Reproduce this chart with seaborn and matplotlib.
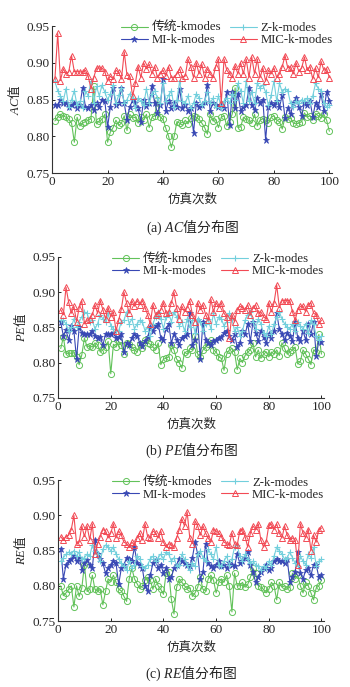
import numpy as np
import pandas as pd
import matplotlib
matplotlib.use('Agg')
import matplotlib.pyplot as plt
import seaborn as sns

sns.set_style('ticks')
plt.rcParams['font.family'] = ['Liberation Serif', 'Noto Sans CJK SC']
plt.rcParams['mathtext.fontset'] = 'custom'
plt.rcParams['mathtext.it'] = 'Liberation Serif:italic'
plt.rcParams['mathtext.rm'] = 'Noto Sans CJK SC'

runs = list(range(1, 101))
series_names = ['传统-kmodes', 'MI-k-modes', 'Z-k-modes', 'MIC-k-modes']

# (a) AC
ac_trad = [0.821, 0.826, 0.830, 0.828, 0.826, 0.823, 0.818, 0.792, 0.826, 0.814,
           0.818, 0.820, 0.822, 0.824, 0.868, 0.817, 0.821, 0.823, 0.830, 0.792,
           0.806, 0.812, 0.822, 0.815, 0.818, 0.828, 0.808, 0.830, 0.825, 0.826,
           0.818, 0.827, 0.822, 0.830, 0.812, 0.826, 0.828, 0.850, 0.826, 0.823,
           0.811, 0.800, 0.785, 0.800, 0.820, 0.818, 0.815, 0.822, 0.817, 0.825,
           0.828, 0.826, 0.823, 0.818, 0.812, 0.803, 0.830, 0.821, 0.823, 0.812,
           0.826, 0.828, 0.814, 0.820, 0.831, 0.866, 0.812, 0.813, 0.826, 0.823,
           0.822, 0.818, 0.830, 0.814, 0.822, 0.824, 0.822, 0.818, 0.826, 0.828,
           0.822, 0.820, 0.810, 0.826, 0.823, 0.825, 0.818, 0.817, 0.818, 0.820,
           0.832, 0.826, 0.828, 0.822, 0.831, 0.828, 0.825, 0.830, 0.822, 0.807]
ac_mi = [0.843, 0.843, 0.850, 0.845, 0.846, 0.840, 0.843, 0.845, 0.838, 0.843,
         0.866, 0.840, 0.838, 0.842, 0.836, 0.845, 0.840, 0.850, 0.848, 0.813,
         0.840, 0.866, 0.843, 0.845, 0.866, 0.845, 0.822, 0.840, 0.849, 0.845,
         0.838, 0.820, 0.850, 0.841, 0.846, 0.868, 0.845, 0.832, 0.842, 0.878,
         0.835, 0.848, 0.838, 0.845, 0.840, 0.865, 0.838, 0.842, 0.835, 0.838,
         0.805, 0.846, 0.840, 0.843, 0.847, 0.870, 0.835, 0.845, 0.842, 0.840,
         0.842, 0.838, 0.860, 0.815, 0.860, 0.838, 0.858, 0.835, 0.840, 0.843,
         0.866, 0.842, 0.836, 0.852, 0.845, 0.850, 0.795, 0.840, 0.845, 0.842,
         0.848, 0.840, 0.856, 0.825, 0.838, 0.830, 0.845, 0.852, 0.840, 0.828,
         0.845, 0.842, 0.848, 0.827, 0.845, 0.840, 0.858, 0.835, 0.860, 0.848]
ac_z = [0.875, 0.862, 0.855, 0.848, 0.865, 0.840, 0.850, 0.862, 0.842, 0.848,
        0.838, 0.862, 0.855, 0.875, 0.846, 0.868, 0.855, 0.870, 0.860, 0.850,
        0.858, 0.870, 0.845, 0.856, 0.866, 0.845, 0.850, 0.858, 0.852, 0.838,
        0.852, 0.848, 0.842, 0.865, 0.845, 0.858, 0.862, 0.852, 0.845, 0.872,
        0.848, 0.856, 0.862, 0.840, 0.850, 0.875, 0.848, 0.845, 0.855, 0.838,
        0.845, 0.858, 0.852, 0.842, 0.848, 0.860, 0.845, 0.852, 0.840, 0.855,
        0.838, 0.848, 0.852, 0.845, 0.858, 0.850, 0.872, 0.862, 0.845, 0.876,
        0.848, 0.860, 0.845, 0.872, 0.866, 0.870, 0.860, 0.842, 0.856, 0.875,
        0.848, 0.872, 0.860, 0.865, 0.862, 0.845, 0.840, 0.848, 0.845, 0.850,
        0.848, 0.852, 0.845, 0.855, 0.872, 0.865, 0.862, 0.845, 0.840, 0.843]
ac_mic = [0.878, 0.940, 0.876, 0.892, 0.885, 0.888, 0.910, 0.888, 0.888, 0.888,
          0.887, 0.890, 0.882, 0.865, 0.880, 0.893, 0.893, 0.893, 0.888, 0.875,
          0.882, 0.878, 0.890, 0.887, 0.878, 0.915, 0.883, 0.882, 0.855, 0.872,
          0.895, 0.880, 0.900, 0.892, 0.898, 0.885, 0.895, 0.880, 0.885, 0.890,
          0.882, 0.895, 0.880, 0.880, 0.885, 0.892, 0.880, 0.882, 0.905, 0.895,
          0.880, 0.900, 0.885, 0.898, 0.880, 0.892, 0.885, 0.880, 0.895, 0.905,
          0.845, 0.905, 0.890, 0.885, 0.880, 0.896, 0.885, 0.900, 0.885, 0.905,
          0.880, 0.908, 0.885, 0.905, 0.880, 0.893, 0.875, 0.890, 0.885, 0.893,
          0.880, 0.885, 0.895, 0.910, 0.893, 0.895, 0.885, 0.900, 0.888, 0.893,
          0.908, 0.890, 0.895, 0.878, 0.893, 0.880, 0.902, 0.890, 0.892, 0.880]

# (b) PE
pe_trad = [0.820, 0.836, 0.812, 0.814, 0.813, 0.814, 0.808, 0.797, 0.811, 0.835,
           0.822, 0.824, 0.822, 0.828, 0.825, 0.815, 0.818, 0.822, 0.830, 0.784,
           0.826, 0.822, 0.830, 0.825, 0.812, 0.828, 0.826, 0.822, 0.818, 0.815,
           0.826, 0.820, 0.832, 0.828, 0.826, 0.822, 0.818, 0.828, 0.797, 0.805,
           0.806, 0.808, 0.825, 0.818, 0.805, 0.800, 0.792, 0.815, 0.812, 0.820,
           0.818, 0.838, 0.812, 0.808, 0.818, 0.822, 0.826, 0.832, 0.818, 0.815,
           0.808, 0.806, 0.789, 0.812, 0.818, 0.820, 0.815, 0.790, 0.806, 0.800,
           0.810, 0.815, 0.818, 0.828, 0.808, 0.818, 0.806, 0.812, 0.815, 0.808,
           0.815, 0.812, 0.818, 0.810, 0.828, 0.820, 0.812, 0.815, 0.818, 0.822,
           0.798, 0.802, 0.818, 0.812, 0.805, 0.797, 0.818, 0.815, 0.840, 0.812]
pe_mi = [0.857, 0.838, 0.846, 0.832, 0.852, 0.845, 0.805, 0.850, 0.842, 0.840,
         0.840, 0.840, 0.845, 0.838, 0.835, 0.836, 0.825, 0.840, 0.840, 0.840,
         0.842, 0.835, 0.836, 0.840, 0.815, 0.828, 0.825, 0.835, 0.840, 0.838,
         0.828, 0.824, 0.830, 0.836, 0.850, 0.845, 0.852, 0.855, 0.835, 0.832,
         0.848, 0.855, 0.828, 0.840, 0.832, 0.825, 0.835, 0.838, 0.840, 0.870,
         0.825, 0.832, 0.860, 0.805, 0.858, 0.832, 0.828, 0.825, 0.830, 0.832,
         0.835, 0.836, 0.842, 0.845, 0.838, 0.832, 0.840, 0.822, 0.828, 0.845,
         0.840, 0.855, 0.830, 0.858, 0.842, 0.830, 0.845, 0.836, 0.828, 0.840,
         0.835, 0.845, 0.870, 0.848, 0.840, 0.832, 0.842, 0.838, 0.830, 0.858,
         0.835, 0.830, 0.845, 0.832, 0.855, 0.840, 0.858, 0.810, 0.830, 0.829]
pe_z = [0.860, 0.860, 0.855, 0.845, 0.850, 0.862, 0.850, 0.858, 0.865, 0.872,
        0.870, 0.858, 0.860, 0.848, 0.855, 0.868, 0.862, 0.858, 0.870, 0.852,
        0.848, 0.845, 0.845, 0.858, 0.860, 0.872, 0.855, 0.862, 0.848, 0.855,
        0.860, 0.858, 0.845, 0.850, 0.838, 0.855, 0.865, 0.872, 0.862, 0.848,
        0.865, 0.870, 0.858, 0.872, 0.865, 0.852, 0.858, 0.845, 0.862, 0.850,
        0.860, 0.842, 0.862, 0.858, 0.845, 0.855, 0.862, 0.848, 0.870, 0.855,
        0.865, 0.862, 0.852, 0.858, 0.870, 0.862, 0.845, 0.850, 0.838, 0.845,
        0.860, 0.868, 0.872, 0.858, 0.848, 0.862, 0.855, 0.842, 0.838, 0.852,
        0.840, 0.855, 0.865, 0.872, 0.862, 0.855, 0.850, 0.848, 0.855, 0.845,
        0.858, 0.852, 0.848, 0.855, 0.842, 0.860, 0.855, 0.838, 0.832, 0.838]
pe_mic = [0.875, 0.868, 0.907, 0.886, 0.870, 0.880, 0.858, 0.878, 0.888, 0.855,
          0.860, 0.862, 0.868, 0.882, 0.870, 0.888, 0.875, 0.862, 0.878, 0.865,
          0.872, 0.845, 0.860, 0.876, 0.900, 0.885, 0.870, 0.888, 0.880, 0.888,
          0.882, 0.888, 0.878, 0.868, 0.855, 0.882, 0.868, 0.870, 0.875, 0.885,
          0.870, 0.872, 0.885, 0.900, 0.878, 0.862, 0.880, 0.872, 0.878, 0.888,
          0.868, 0.858, 0.885, 0.875, 0.882, 0.868, 0.860, 0.890, 0.872, 0.885,
          0.878, 0.885, 0.870, 0.865, 0.835, 0.868, 0.858, 0.875, 0.880, 0.878,
          0.875, 0.882, 0.868, 0.878, 0.882, 0.870, 0.872, 0.865, 0.862, 0.885,
          0.872, 0.885, 0.910, 0.878, 0.888, 0.888, 0.888, 0.888, 0.872, 0.860,
          0.875, 0.880, 0.880, 0.872, 0.882, 0.885, 0.870, 0.868, 0.855, 0.860]

# (c) RE
re_trad = [0.800, 0.786, 0.790, 0.795, 0.800, 0.770, 0.800, 0.785, 0.797, 0.830,
           0.792, 0.795, 0.815, 0.795, 0.792, 0.795, 0.773, 0.792, 0.810, 0.806,
           0.815, 0.805, 0.795, 0.793, 0.785, 0.778, 0.810, 0.825, 0.810, 0.803,
           0.796, 0.800, 0.808, 0.812, 0.808, 0.795, 0.810, 0.800, 0.795, 0.788,
           0.818, 0.820, 0.781, 0.760, 0.798, 0.810, 0.805, 0.800, 0.796, 0.797,
           0.785, 0.790, 0.798, 0.812, 0.795, 0.793, 0.810, 0.815, 0.808, 0.790,
           0.805, 0.810, 0.805, 0.815, 0.800, 0.763, 0.818, 0.800, 0.800, 0.805,
           0.798, 0.802, 0.812, 0.825, 0.818, 0.800, 0.798, 0.795, 0.790, 0.795,
           0.805, 0.800, 0.780, 0.805, 0.798, 0.800, 0.796, 0.798, 0.818, 0.810,
           0.815, 0.800, 0.790, 0.805, 0.800, 0.790, 0.780, 0.797, 0.800, 0.808]
re_mi = [0.853, 0.810, 0.830, 0.835, 0.838, 0.843, 0.835, 0.840, 0.823, 0.832,
         0.836, 0.830, 0.825, 0.865, 0.845, 0.838, 0.832, 0.818, 0.825, 0.830,
         0.835, 0.832, 0.802, 0.825, 0.830, 0.840, 0.838, 0.835, 0.855, 0.832,
         0.830, 0.825, 0.800, 0.792, 0.815, 0.832, 0.836, 0.825, 0.830, 0.818,
         0.825, 0.810, 0.812, 0.825, 0.830, 0.838, 0.835, 0.832, 0.830, 0.828,
         0.840, 0.862, 0.845, 0.810, 0.820, 0.860, 0.832, 0.828, 0.825, 0.830,
         0.835, 0.828, 0.830, 0.825, 0.832, 0.830, 0.828, 0.845, 0.832, 0.835,
         0.840, 0.848, 0.830, 0.820, 0.805, 0.812, 0.820, 0.825, 0.830, 0.822,
         0.825, 0.835, 0.838, 0.835, 0.835, 0.832, 0.838, 0.805, 0.812, 0.820,
         0.848, 0.818, 0.810, 0.822, 0.825, 0.815, 0.830, 0.830, 0.812, 0.815]
re_z = [0.835, 0.840, 0.845, 0.848, 0.845, 0.850, 0.842, 0.848, 0.838, 0.840,
        0.845, 0.842, 0.858, 0.850, 0.845, 0.835, 0.852, 0.858, 0.855, 0.850,
        0.855, 0.845, 0.838, 0.832, 0.828, 0.822, 0.835, 0.826, 0.830, 0.842,
        0.838, 0.828, 0.825, 0.830, 0.838, 0.842, 0.835, 0.840, 0.845, 0.838,
        0.848, 0.845, 0.835, 0.840, 0.828, 0.830, 0.845, 0.838, 0.830, 0.822,
        0.832, 0.828, 0.845, 0.850, 0.840, 0.835, 0.852, 0.845, 0.838, 0.855,
        0.830, 0.828, 0.835, 0.842, 0.830, 0.838, 0.855, 0.858, 0.842, 0.835,
        0.845, 0.838, 0.832, 0.835, 0.830, 0.828, 0.822, 0.828, 0.825, 0.835,
        0.830, 0.842, 0.855, 0.850, 0.845, 0.838, 0.840, 0.848, 0.840, 0.832,
        0.828, 0.842, 0.835, 0.830, 0.845, 0.840, 0.855, 0.828, 0.835, 0.838]
re_mic = [0.870, 0.865, 0.870, 0.872, 0.880, 0.900, 0.860, 0.862, 0.885, 0.870,
          0.885, 0.865, 0.888, 0.845, 0.860, 0.870, 0.880, 0.878, 0.868, 0.875,
          0.888, 0.868, 0.878, 0.872, 0.862, 0.860, 0.855, 0.862, 0.858, 0.868,
          0.875, 0.865, 0.888, 0.870, 0.868, 0.878, 0.875, 0.868, 0.878, 0.862,
          0.855, 0.860, 0.858, 0.855, 0.868, 0.880, 0.895, 0.885, 0.905, 0.868,
          0.860, 0.892, 0.885, 0.872, 0.885, 0.875, 0.868, 0.862, 0.880, 0.878,
          0.875, 0.870, 0.862, 0.860, 0.858, 0.875, 0.860, 0.858, 0.878, 0.880,
          0.870, 0.855, 0.875, 0.885, 0.880, 0.888, 0.865, 0.855, 0.862, 0.886,
          0.888, 0.880, 0.888, 0.875, 0.868, 0.885, 0.872, 0.865, 0.868, 0.865,
          0.830, 0.888, 0.875, 0.868, 0.880, 0.850, 0.872, 0.862, 0.880, 0.882]

colors = ['#62c25a', '#3848b4', '#72cfdc', '#f24a55']
styles = [
    dict(marker='o', markersize=4.4, markerfacecolor='none', markeredgewidth=0.7),
    dict(marker='*', markersize=4.8, markeredgewidth=0.5),
    dict(marker='+', markersize=5.0, markeredgewidth=0.8),
    dict(marker='^', markersize=4.4, markerfacecolor='none', markeredgewidth=0.7),
]

panels = [
    ('AC', [ac_trad, ac_mi, ac_z, ac_mic], [0.149, 0.748, 0.800, 0.214]),
    ('PE', [pe_trad, pe_mi, pe_z, pe_mic], [0.166, 0.421, 0.760, 0.205]),
    ('RE', [re_trad, re_mi, re_z, re_mic], [0.166, 0.096, 0.760, 0.205]),
]
letters = ['a', 'b', 'c']

fig = plt.figure(figsize=(3.5, 6.87), dpi=100)
fig.patch.set_facecolor('white')

for i, (name, data, rect) in enumerate(panels):
    ax = fig.add_axes(rect)
    for label, vals, c, st in zip(series_names, data, colors, styles):
        df = pd.DataFrame({'run': runs, 'val': vals})
        sns.lineplot(data=df, x='run', y='val', ax=ax, label=label,
                     color=c, markeredgecolor=c, linewidth=0.8, **st)
    ax.set_xlim(0, 101)
    ax.set_ylim(0.75, 0.95)
    ax.set_xticks([0, 20, 40, 60, 80, 100])
    ax.set_yticks([0.75, 0.80, 0.85, 0.90, 0.95])
    ax.set_yticklabels(['0.75', '0.80', '0.85', '0.90', '0.95'])
    ax.tick_params(direction='in', length=2.5, width=0.7, labelsize=9.5, pad=2)
    sns.despine(ax=ax)
    for s in ['left', 'bottom']:
        ax.spines[s].set_linewidth(0.8)
        ax.spines[s].set_color('#333333')
    ax.set_xlabel('仿真次数', fontsize=9, labelpad=4)
    ax.set_ylabel(r'$\mathit{%s}\mathrm{值}$' % name, fontsize=9, labelpad=3)
    ax.legend(loc='upper right', bbox_to_anchor=(1.03, 1.08), ncol=2,
              frameon=False, fontsize=9.2, handlelength=2.1,
              handletextpad=0.3, columnspacing=0.7, labelspacing=0.0,
              borderpad=0.1)
    ax.text(0.5, -0.37, r'(%s) $\mathit{%s}\mathrm{值分布图}$' % (letters[i], name),
            transform=ax.transAxes, ha='center', va='center', fontsize=10)

fig.savefig('out.png', dpi=100, facecolor='white')
